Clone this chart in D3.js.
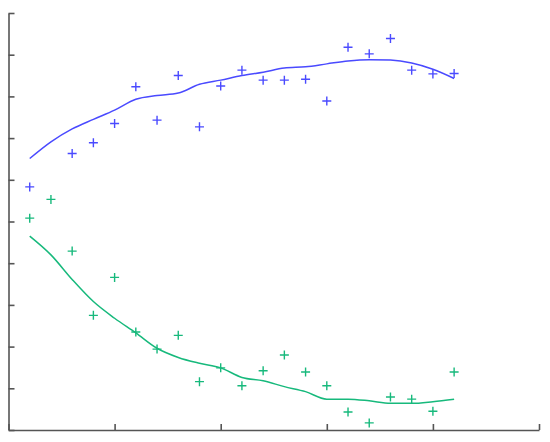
<!DOCTYPE html>
<html><head><meta charset="utf-8">
<script src="https://cdn.jsdelivr.net/npm/d3@7"></script>
<style>body{margin:0;background:#fff}svg{display:block}</style>
</head><body>
<svg id="chart" width="550" height="442"></svg>
<script>
const xValues = [1,2,3,4,5,6,7,8,9,10,11,12,13,14,15,16,17,18,19,20,21];
const blueMeasured = [5.83,null,6.63,6.89,7.35,8.23,7.43,8.50,7.27,8.25,8.63,8.39,8.39,8.41,7.89,9.18,9.02,9.39,8.63,8.54,8.55];
const blueTrend = [6.51,6.91,7.22,7.45,7.67,7.93,8.02,8.08,8.29,8.39,8.50,8.58,8.68,8.71,8.78,8.85,8.88,8.87,8.80,8.65,8.43];
const greenMeasured = [5.08,5.53,4.29,2.75,3.66,2.35,1.94,2.27,1.16,1.49,1.06,1.42,1.80,1.39,1.06,0.43,0.17,0.79,0.74,0.45,1.39];
const greenTrend = [4.65,4.20,3.61,3.08,2.68,2.33,1.96,1.74,1.60,1.49,1.26,1.18,1.04,0.92,0.74,0.74,0.70,0.64,0.64,0.68,0.74];
const xTicks = [0,5,10,15,20,25];
const yTicks = [0,1,2,3,4,5,6,7,8,9,10];

const svg = d3.select("#chart");
const x = d3.scaleLinear().domain([0,25]).range([8.5,539]);
const y = d3.scaleLinear().domain([0,10]).range([430,13]);

const axisColor = "#555";
const gx = svg.append("g").attr("transform","translate(0,430)")
  .call(d3.axisBottom(x).tickValues(xTicks).tickSize(-6).tickSizeOuter(0).tickFormat(""));
const gy = svg.append("g").attr("transform","translate(8.5,0)")
  .call(d3.axisLeft(y).tickValues(yTicks).tickSize(-6).tickSizeOuter(0).tickFormat(""));
[gx,gy].forEach(g=>{
  g.selectAll("path").attr("stroke",axisColor).attr("stroke-width",1.6);
  g.selectAll("line").attr("stroke",axisColor).attr("stroke-width",1.6);
});

const series = [
  {meas: blueMeasured, trend: blueTrend, color: "#4a4aff"},
  {meas: greenMeasured, trend: greenTrend, color: "#17b97c"}
];
const line = d3.line().x((d,i)=>x(xValues[i])).y(d=>y(d)).curve(d3.curveMonotoneX);
const plus = d3.symbol().type(d3.symbolCross);
series.forEach(s=>{
  svg.append("path").datum(s.trend).attr("d", line)
    .attr("fill","none").attr("stroke", s.color).attr("stroke-width",1.5);
  const pts = xValues.map((xv,i)=>({x:xv, v:s.meas[i]})).filter(d=>d.v!=null);
  svg.append("g").selectAll("path").data(pts).join("path")
    .attr("d", d=>`M${x(d.x)-4.5},${y(d.v)}H${x(d.x)+4.5}M${x(d.x)},${y(d.v)-4.5}V${y(d.v)+4.5}`)
    .attr("stroke", s.color).attr("stroke-width",1.4).attr("fill","none");
});
</script>
</body></html>
